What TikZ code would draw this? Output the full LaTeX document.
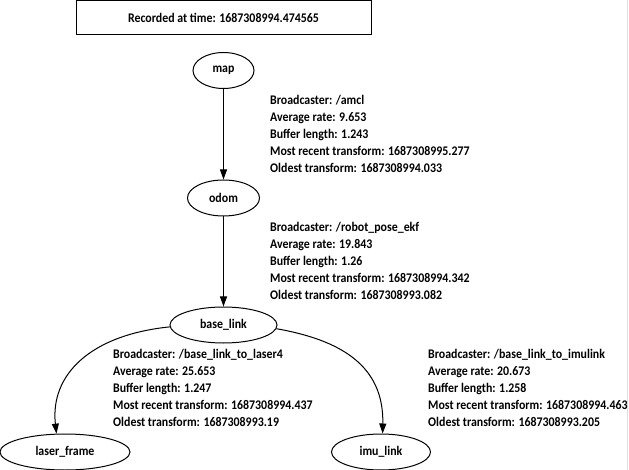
\documentclass[tikz,border=0pt]{standalone}
\usepackage{fontspec}
\setmainfont{Carlito}[FakeStretch=0.9]
\usetikzlibrary{positioning}
\usetikzlibrary{shapes.geometric}
\usetikzlibrary{arrows.meta}
\tikzset{
	frame/.style={
		ellipse,
		draw,
		line width=1pt,
		minimum height=36pt,
		inner sep=0pt,
		font=\bfseries\fontsize{13.2}{17}\selectfont
	},
	info/.style={
		align=left,
		anchor=north west,
		inner sep=0pt,
		font=\bfseries\fontsize{13.2}{17}\selectfont
	},
	tf/.style={
		line width=1pt,
		-{Triangle[length=10pt,width=7pt]}
	}
}
\begin{document}
\begin{tikzpicture}[x=1pt,y=-1pt]
	\useasboundingbox (0,0) rectangle (629,470);
	\draw[black!12] (627.5,0) -- (627.5,470);
	
	\node[draw, line width=1pt, minimum width=295pt, minimum height=34pt, inner sep=0pt, font=\bfseries\fontsize{13.2}{17}\selectfont] (stamp) at (223.5,18) {Recorded at time: 1687308994.474565};
	
	\node[frame, minimum width=61pt] (map) at (223.5,70.5) {map};
	\node[frame, minimum width=72pt] (odom) at (223.5,198) {odom};
	\node[frame, minimum width=107pt] (base) at (223.5,325) {base\_link};
	\node[frame, minimum width=130pt] (laser) at (65,452) {laser\_frame};
	\node[frame, minimum width=99pt] (imu) at (381,452) {imu\_link};
	
	\draw[tf] (map) -- (odom);
	\draw[tf] (odom) -- (base);
	\draw[tf] (base.182) .. controls (90,335) and (50,375) .. (laser.115);
	\draw[tf] (base.356) .. controls (340,340) and (384,365) .. (imu.85);
	
	\node[info] (amcl) at (270,95) {Broadcaster: /amcl\\ Average rate: 9.653\\ Buffer length: 1.243\\ Most recent transform: 1687308995.277\\ Oldest transform: 1687308994.033};
	\node[info] (ekf) at (270,222) {Broadcaster: /robot\_pose\_ekf\\ Average rate: 19.843\\ Buffer length: 1.26\\ Most recent transform: 1687308994.342\\ Oldest transform: 1687308993.082};
	\node[info] (laser4) at (113,349) {Broadcaster: /base\_link\_to\_laser4\\ Average rate: 25.653\\ Buffer length: 1.247\\ Most recent transform: 1687308994.437\\ Oldest transform: 1687308993.19};
	\node[info] (imulink) at (428,349) {Broadcaster: /base\_link\_to\_imulink\\ Average rate: 20.673\\ Buffer length: 1.258\\ Most recent transform: 1687308994.463\\ Oldest transform: 1687308993.205};
\end{tikzpicture}
\end{document}
